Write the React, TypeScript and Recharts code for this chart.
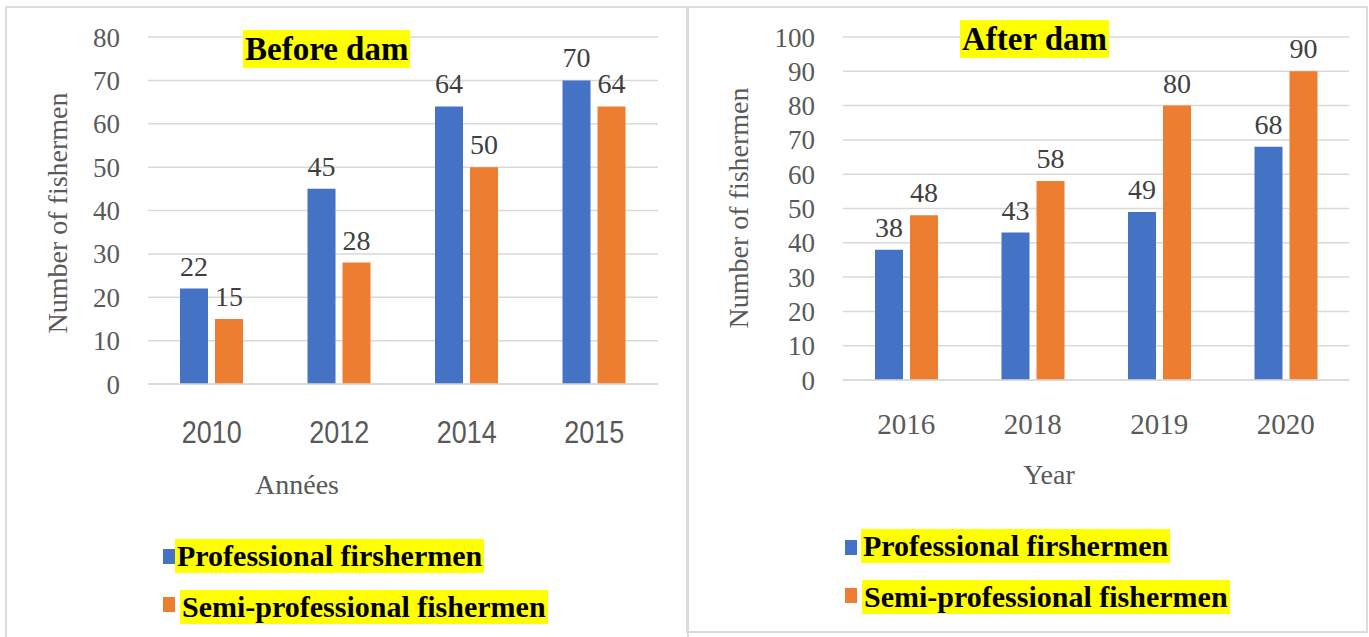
import React from "react"
import { BarChart, Bar, XAxis, YAxis, CartesianGrid, LabelList } from "recharts"

// before dam
const yearsBefore = ["2010", "2012", "2014", "2015"]
const proBefore = [22, 45, 64, 70]
const semiBefore = [15, 28, 50, 64]
const ticksBefore = [0, 10, 20, 30, 40, 50, 60, 70, 80]

// after dam
const yearsAfter = ["2016", "2018", "2019", "2020"]
const proAfter = [38, 43, 49, 68]
const semiAfter = [48, 58, 80, 90]
const ticksAfter = [0, 10, 20, 30, 40, 50, 60, 70, 80, 90, 100]

const BLUE = "#4472C4"
const ORANGE = "#ED7D31"
const SERIF = "'Liberation Serif', 'DejaVu Serif', 'Times New Roman', Times, serif"
const SANS = "'Liberation Sans Narrow', 'Liberation Sans', Arial, sans-serif"

const toRows = (years: string[], pro: number[], semi: number[]) =>
  years.map((y, i) => ({ year: y, pro: pro[i], semi: semi[i] }))

const highlight: React.CSSProperties = {
  position: "absolute",
  background: "#FFFF00",
  color: "#000",
  fontFamily: SERIF,
  fontWeight: "bold",
  whiteSpace: "nowrap",
  padding: "0 2px",
}

// condensed sans tick like the left chart's year labels
const NarrowTick = (props: any) => {
  const { x, y, payload } = props
  return (
    <text
      x={x}
      y={y}
      dy={23}
      textAnchor="middle"
      fill="#595959"
      fontSize={32}
      fontFamily={SANS}
      textLength={60}
      lengthAdjust="spacingAndGlyphs"
    >
      {payload.value}
    </text>
  )
}

type PanelProps = {
  rows: { year: string; pro: number; semi: number }[]
  ticks: number[]
  left: number
  width: number
  marginLeft: number
  marginRight: number
  bottomMargin: number
  narrowTicks: boolean
  xTickMargin: number
  yTitle: { x: number; y: number }
  xTitle: { text: string; x: number; y: number }
}

function Panel(p: PanelProps) {
  const max = p.ticks[p.ticks.length - 1]
  return (
    <div style={{ position: "absolute", left: p.left, top: 0 }}>
      <BarChart
        width={p.width}
        height={637}
        data={p.rows}
        barSize={28}
        barGap={7}
        margin={{ top: 37, right: p.marginRight, left: p.marginLeft, bottom: p.bottomMargin }}
      >
        <CartesianGrid vertical={false} stroke="#D9D9D9" strokeWidth={1.5} />
        <XAxis
          dataKey="year"
          height={60}
          tickSize={0}
          tickMargin={p.xTickMargin}
          axisLine={{ stroke: "#D9D9D9", strokeWidth: 1.5 }}
          tick={p.narrowTicks ? NarrowTick : { fill: "#595959", fontSize: 29, fontFamily: SERIF }}
          label={{
            content: () => (
              <text x={p.xTitle.x} y={p.xTitle.y} textAnchor="middle" fill="#595959" fontSize={28} fontFamily={SERIF}>
                {p.xTitle.text}
              </text>
            ),
          }}
        />
        <YAxis
          width={100}
          domain={[0, max]}
          ticks={p.ticks}
          interval={0}
          tickSize={0}
          tickMargin={28}
          axisLine={false}
          tick={{ fill: "#595959", fontSize: 27, fontFamily: SERIF }}
          label={{
            content: () => (
              <text
                x={p.yTitle.x}
                y={p.yTitle.y}
                transform={`rotate(-90 ${p.yTitle.x} ${p.yTitle.y})`}
                textAnchor="middle"
                dominantBaseline="central"
                fill="#595959"
                fontSize={28}
                fontFamily={SERIF}
              >
                Number of fishermen
              </text>
            ),
          }}
        />
        <Bar dataKey="pro" fill={BLUE} isAnimationActive={false}>
          <LabelList dataKey="pro" position="top" offset={13} fill="#404040" fontSize={28} fontFamily={SERIF} />
        </Bar>
        <Bar dataKey="semi" fill={ORANGE} isAnimationActive={false}>
          <LabelList dataKey="semi" position="top" offset={13} fill="#404040" fontSize={28} fontFamily={SERIF} />
        </Bar>
      </BarChart>
    </div>
  )
}

function LegendItem({ color, text, x, y, tx, ty }: { color: string; text: string; x: number; y: number; tx: number; ty: number }) {
  return (
    <>
      <div style={{ position: "absolute", left: x, top: y, width: 12, height: 15, background: color }} />
      <div style={{ ...highlight, left: tx, top: ty, fontSize: 30, lineHeight: "34px" }}>{text}</div>
    </>
  )
}

export default function App() {
  return (
    <div
      style={{
        position: "absolute",
        left: 0,
        top: 0,
        width: 1369,
        height: 637,
        background: "#fff",
        overflow: "hidden",
      }}
    >
      {/* panel frames */}
      <div style={{ position: "absolute", left: 5, top: 6, width: 680, height: 660, border: "2px solid #DCDCDC" }} />
      <div style={{ position: "absolute", left: 686, top: 6, width: 678, height: 623, border: "2px solid #DCDCDC" }} />

      <Panel
        rows={toRows(yearsBefore, proBefore, semiBefore)}
        ticks={ticksBefore}
        left={0}
        width={686}
        marginLeft={48}
        marginRight={28}
        bottomMargin={193}
        narrowTicks={true}
        xTickMargin={36}
        yTitle={{ x: 57, y: 213 }}
        xTitle={{ text: "Années", x: 297, y: 494 }}
      />
      <Panel
        rows={toRows(yearsAfter, proAfter, semiAfter)}
        ticks={ticksAfter}
        left={686}
        width={683}
        marginLeft={57}
        marginRight={20}
        bottomMargin={197}
        narrowTicks={false}
        xTickMargin={33}
        yTitle={{ x: 52, y: 208 }}
        xTitle={{ text: "Year", x: 363, y: 484 }}
      />

      <div style={{ ...highlight, left: 243, top: 30, fontSize: 33, lineHeight: "38px" }}>Before dam</div>
      <div style={{ ...highlight, left: 960, top: 20, fontSize: 33, lineHeight: "38px" }}>After dam</div>

      <LegendItem color={BLUE} text="Professional firshermen" x={163} y={549} tx={175} ty={539} />
      <LegendItem color={ORANGE} text="Semi-professional fishermen" x={163} y={597} tx={180} ty={590} />
      <LegendItem color={BLUE} text="Professional firshermen" x={845} y={540} tx={861} ty={529} />
      <LegendItem color={ORANGE} text="Semi-professional fishermen" x={845} y={588} tx={862} ty={580} />
    </div>
  )
}
